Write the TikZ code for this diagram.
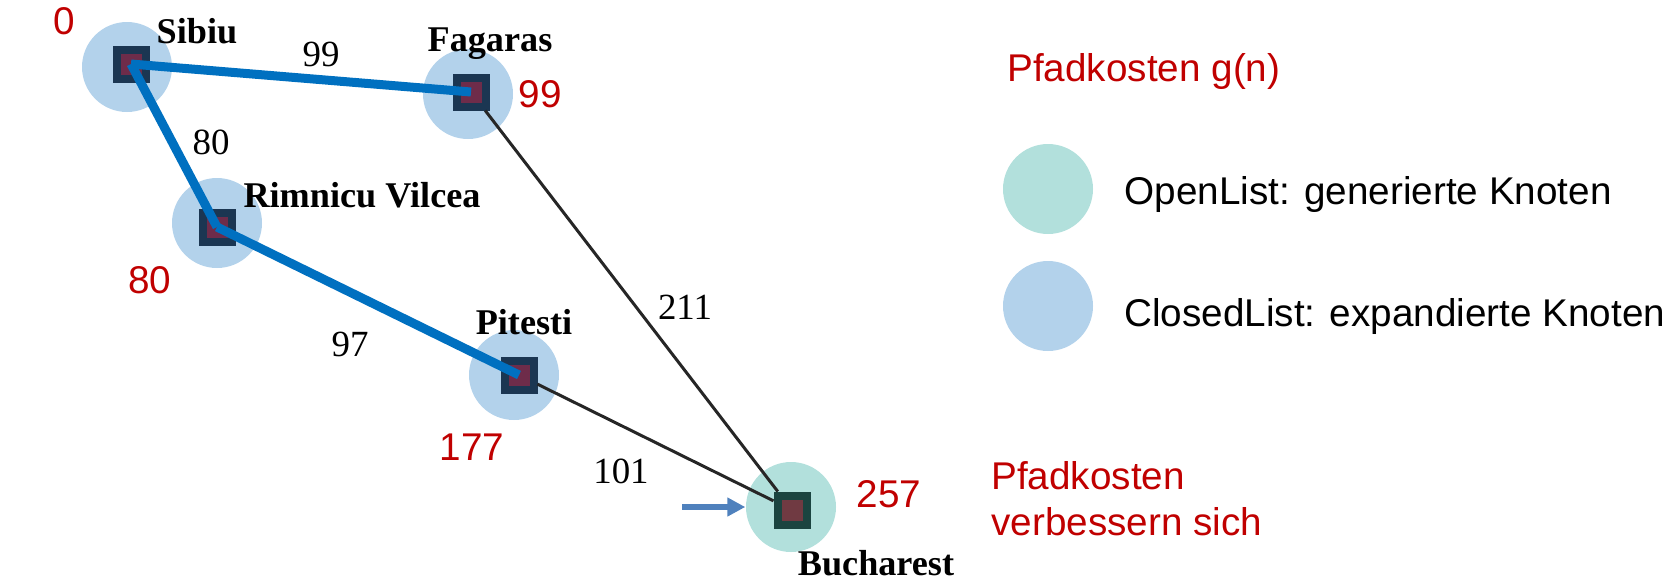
\documentclass[tikz,border=0pt]{standalone}
\usepackage{fontspec}
\setmainfont{Liberation Serif}
\newfontfamily\arialfont{Liberation Sans}
\usetikzlibrary{arrows.meta}
\definecolor{ClosedBlue}{RGB}{179,210,235}
\definecolor{OpenTeal}{RGB}{178,224,220}
\definecolor{SqBorder}{RGB}{27,54,82}
\definecolor{SqFill}{RGB}{110,44,74}
\definecolor{BuchBorder}{RGB}{27,68,64}
\definecolor{BuchFill}{RGB}{112,58,66}
\definecolor{MyBlue}{RGB}{0,112,192}
\definecolor{MyRed}{RGB}{192,0,0}
\definecolor{ArrowBlue}{RGB}{79,129,189}

\begin{document}
\begin{tikzpicture}[
    closedlist/.style={circle,fill=ClosedBlue,minimum size=0.9cm,inner sep=0pt},
    openlist/.style={circle,fill=OpenTeal,minimum size=0.9cm,inner sep=0pt},
    city/.style={draw=SqBorder,fill=SqFill,line width=0.08cm,minimum size=0.29cm,inner sep=0pt},
    cityname/.style={font=\bfseries\fontsize{10.3}{12}\selectfont,anchor=base},
    dist/.style={font=\fontsize{10.5}{12}\selectfont},
    cost/.style={text=MyRed,font=\arialfont\fontsize{11}{13}\selectfont},
    legend/.style={font=\arialfont\fontsize{11}{13}\selectfont,anchor=base west},
    pathedge/.style={MyBlue,line width=0.09cm},
    graphedge/.style={black!85,line width=0.03cm}]
    \useasboundingbox (0,0) rectangle (16.78,5.85);
    % Kreise (OpenList / ClosedList)
    \node[closedlist] (sibiu-c) at (1.27,5.18) {};
    \node[closedlist] (fagaras-c) at (4.68,4.91) {};
    \node[closedlist] (rimnicu-c) at (2.17,3.62) {};
    \node[closedlist] (pitesti-c) at (5.14,2.10) {};
    \node[openlist] (bucharest-c) at (7.91,0.78) {};
    % Staedte
    \node[city] (sibiu) at (1.31,5.21) {};
    \node[city] (fagaras) at (4.71,4.93) {};
    \node[city] (rimnicu) at (2.17,3.58) {};
    \node[city] (pitesti) at (5.19,2.10) {};
    \node[city,draw=BuchBorder,fill=BuchFill] (bucharest) at (7.92,0.75) {};
    % Kanten
    \draw[graphedge] (fagaras) -- (bucharest);
    \draw[graphedge] (pitesti) -- (bucharest);
    \draw[pathedge] (sibiu.center) -- (fagaras.center);
    \draw[pathedge] (sibiu.center) -- (rimnicu.center);
    \draw[pathedge] (rimnicu.center) -- (pitesti.center);
    % Namen
    \node[cityname] (sibiu-l) at (1.97,5.42) {Sibiu};
    \node[cityname] (fagaras-l) at (4.90,5.34) {Fagaras};
    \node[cityname] (rimnicu-l) at (3.62,3.78) {Rimnicu Vilcea};
    \node[cityname] (pitesti-l) at (5.24,2.51) {Pitesti};
    \node[cityname] (bucharest-l) at (8.76,0.10) {Bucharest};
    % Entfernungen
    \node[dist] (d-sf) at (3.21,5.31) {99};
    \node[dist] (d-sr) at (2.11,4.43) {80};
    \node[dist] (d-rp) at (3.50,2.41) {97};
    \node[dist] (d-fb) at (6.85,2.78) {211};
    \node[dist] (d-pb) at (6.21,1.14) {101};
    % Pfadkosten g(n)
    \node[cost] (g-sibiu) at (0.64,5.64) {0};
    \node[cost] (g-fagaras) at (5.40,4.91) {99};
    \node[cost] (g-rimnicu) at (1.50,3.05) {80};
    \node[cost] (g-pitesti) at (4.72,1.38) {177};
    \node[cost] (g-bucharest) at (8.89,0.91) {257};
    % Pfeil
    \coordinate (pfeil) at (6.82,0.78);
    \draw[ArrowBlue,line width=0.06cm,-{Triangle[length=0.18cm,width=0.18cm]}] (pfeil) -- (bucharest-c.west);
    % Legende
    \node[legend,text=MyRed] (titel) at (9.95,5.04) {Pfadkosten g(n)};
    \node[openlist] (leg-open) at (10.48,3.96) {};
    \node[legend] (leg-open-t) at (11.12,3.81) {OpenList: generierte Knoten};
    \node[closedlist] (leg-closed) at (10.48,2.79) {};
    \node[legend] (leg-closed-t) at (11.12,2.59) {ClosedList: expandierte Knoten};
    \node[legend,text=MyRed] (hinweis1) at (9.79,0.96) {Pfadkosten};
    \node[legend,text=MyRed] (hinweis2) at (9.79,0.50) {verbessern sich};
\end{tikzpicture}
\end{document}
